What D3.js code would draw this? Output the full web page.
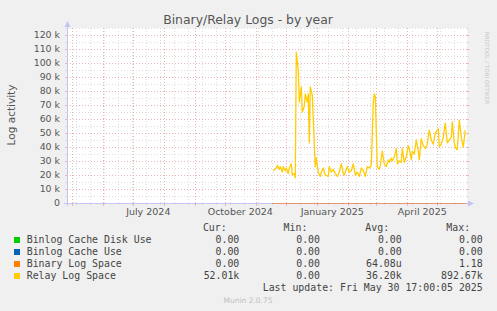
<!DOCTYPE html>
<html><head><meta charset="utf-8">
<script src="https://cdn.jsdelivr.net/npm/d3@7"></script>
<style>body{margin:0;background:#f0f0f0;overflow:hidden} svg{display:block}</style>
</head><body><svg id="c" width="497" height="311"></svg>
<script>
// ---------- data ----------
const chartTitle = "Binary/Relay Logs - by year";
const yAxisTitle = "Log activity";
const yTickValues = [0,10000,20000,30000,40000,50000,60000,70000,80000,90000,100000,110000,120000];
const yTickLabels = ["0","10 k","20 k","30 k","40 k","50 k","60 k","70 k","80 k","90 k","100 k","110 k","120 k"];
const xLabelMonths = ["2024-07-01","2024-10-01","2025-01-01","2025-04-01"];
const seriesNames = ["Binlog Cache Disk Use","Binlog Cache Use","Binary Log Space","Relay Log Space"];
const seriesColors = ["#00CC00","#0066B3","#FF8000","#FFCC00"];
const zeroDates = ["2024-11-17","2025-05-30"];
const binlogDiskValues = [0,0];
const binlogCacheValues = [0,0];
const binaryLogValues = [0,0];
const relayDates = ["2024-11-18","2024-11-21","2024-11-22","2024-11-24","2024-11-25","2024-11-27","2024-11-28","2024-11-30","2024-12-01","2024-12-03","2024-12-04","2024-12-06","2024-12-07","2024-12-09","2024-12-10","2024-12-11","2024-12-13","2024-12-14","2024-12-16","2024-12-17","2024-12-19","2024-12-20","2024-12-22","2024-12-23","2024-12-24","2024-12-25","2024-12-27","2024-12-28","2024-12-30","2024-12-31","2025-01-02","2025-01-04","2025-01-05","2025-01-07","2025-01-09","2025-01-12","2025-01-13","2025-01-15","2025-01-17","2025-01-19","2025-01-21","2025-01-23","2025-01-25","2025-01-27","2025-01-28","2025-01-31","2025-02-02","2025-02-04","2025-02-06","2025-02-08","2025-02-10","2025-02-12","2025-02-14","2025-02-16","2025-02-18","2025-02-20","2025-02-22","2025-02-24","2025-02-26","2025-02-27","2025-02-28","2025-03-02","2025-03-04","2025-03-05","2025-03-07","2025-03-09","2025-03-11","2025-03-13","2025-03-14","2025-03-16","2025-03-17","2025-03-19","2025-03-21","2025-03-22","2025-03-24","2025-03-26","2025-03-27","2025-03-29","2025-03-31","2025-04-02","2025-04-03","2025-04-05","2025-04-06","2025-04-08","2025-04-10","2025-04-12","2025-04-13","2025-04-15","2025-04-17","2025-04-19","2025-04-21","2025-04-23","2025-04-25","2025-04-27","2025-04-29","2025-05-02","2025-05-03","2025-05-05","2025-05-07","2025-05-09","2025-05-11","2025-05-13","2025-05-15","2025-05-16","2025-05-18","2025-05-19","2025-05-21","2025-05-23","2025-05-25","2025-05-27","2025-05-29"];
const relayValuesK = [23,25,27,24,26,22,26,23,25,21,25,28,20,21,18,107.6,95,72,83,65,69,78,72,78,43,83,77,59,26,32,22,19,22,25,20,19,26,22,24,21,19,22,28,21,20,26,22,23,28,20,22,19,25,23,19,26,25,27,72,78,76,26,24,27,37,28,26,31,29,32,30,33,39,28,30,29,39,29,33,41,39,31,37,35,45,37,31,46,41,39,42,52,45,42,50,53,40,42,47,57,43,45,47,58,43,40,38,59,47,40,52];
const legendHeaders = ["Cur:","Min:","Avg:","Max:"];
const legendCur = ["0.00 ","0.00 ","0.00 ","52.01k"];
const legendMin = ["0.00 ","0.00 ","0.00 ","0.00 "];
const legendAvg = ["0.00 ","0.00 ","64.08u","36.20k"];
const legendMax = ["0.00 ","0.00 ","1.18 ","892.67k"];
const lastUpdate = "Last update: Fri May 30 17:00:05 2025";
const footer = "Munin 2.0.75";
const sideText = "RRDTOOL / TOBI OETIKER";

// ---------- layout ----------
const parse = d3.timeParse("%Y-%m-%d");
const endT = new Date(2025,4,30,17,0,5);
const startT = d3.timeDay.offset(endT,-400);
const X0=67, X1=467, YT=28, YB=203;
const x = d3.scaleTime().domain([startT,endT]).range([X0,X1]);
const y = d3.scaleLinear().domain([0,125000]).range([YB,YT]);
const svg = d3.select("#c");
const font = "'DejaVu Sans', sans-serif";
const mono = "'DejaVu Sans Mono', monospace";

svg.append("rect").attr("width",497).attr("height",311).attr("fill","#f0f0f0");
svg.append("rect").attr("x",X0).attr("y",YT).attr("width",X1-X0).attr("height",YB-YT).attr("fill","#ffffff");

const minorC = "#dedede", majorC = "#ebb4b4";
const g = svg.append("g").attr("shape-rendering","crispEdges");
const hMinor = d3.range(0,125001,5000).filter(v=>v%10000!==0);
hMinor.forEach(v=>{
  const yy = Math.round(y(v))+0.5;
  g.append("line").attr("x1",X0).attr("x2",X1).attr("y1",yy).attr("y2",yy).attr("stroke",minorC).attr("stroke-dasharray","1,2");
  g.append("line").attr("x1",X0-2).attr("x2",X0).attr("y1",yy).attr("y2",yy).attr("stroke",minorC);
  g.append("line").attr("x1",X1).attr("x2",X1+2).attr("y1",yy).attr("y2",yy).attr("stroke",minorC);
});
const anchor = new Date(2024,4,19);
const vMinor = d3.range(-2,40).map(i=>d3.timeDay.offset(anchor,14*i)).filter(d=>d>startT && d<endT);
vMinor.forEach(d=>{
  const xx = Math.round(x(d))+0.5;
  g.append("line").attr("x1",xx).attr("x2",xx).attr("y1",YT).attr("y2",YB).attr("stroke",minorC).attr("stroke-dasharray","1,2");
  g.append("line").attr("x1",xx).attr("x2",xx).attr("y1",YB).attr("y2",YB+2).attr("stroke",minorC);
});
yTickValues.forEach(v=>{
  const yy = Math.round(y(v))+0.5;
  g.append("line").attr("x1",X0).attr("x2",X1).attr("y1",yy).attr("y2",yy).attr("stroke",majorC).attr("stroke-dasharray","1,2");
  g.append("line").attr("x1",X0-2).attr("x2",X0).attr("y1",yy).attr("y2",yy).attr("stroke",majorC);
  g.append("line").attr("x1",X1).attr("x2",X1+2).attr("y1",yy).attr("y2",yy).attr("stroke",majorC);
});
const months = d3.timeMonth.range(startT,endT);
months.forEach(d=>{
  const xx = Math.round(x(d))+0.5;
  g.append("line").attr("x1",xx).attr("x2",xx).attr("y1",YT).attr("y2",YB).attr("stroke",majorC).attr("stroke-dasharray","1,2");
  g.append("line").attr("x1",xx).attr("x2",xx).attr("y1",YB).attr("y2",YB+3).attr("stroke",majorC);
});

svg.append("g").selectAll("text").data(yTickValues).join("text")
  .attr("x",60).attr("y",v=>y(v)+3.4).attr("text-anchor","end")
  .attr("font-family",font).attr("font-size",9.4).attr("fill","#555")
  .text((v,i)=>yTickLabels[i]);
const fmt = d3.timeFormat("%B %Y");
svg.append("g").selectAll("text").data(xLabelMonths.map(parse)).join("text")
  .attr("x",d=>x(d3.timeDay.offset(d,15))).attr("y",215).attr("text-anchor","middle")
  .attr("font-family",font).attr("font-size",9.5).attr("fill","#555")
  .text(d=>fmt(d));

const line = d3.line().x(d=>x(d[0])).y(d=>y(d[1]));
const zd = zeroDates.map(parse);
// green and blue zero lines first (hidden under axis, as in reference)
[binlogDiskValues,binlogCacheValues].forEach((vals,i)=>{
  svg.append("path").datum(zd.map((d,j)=>[d,vals[j]]))
    .attr("d",line).attr("fill","none").attr("stroke",seriesColors[i]).attr("stroke-width",1)
    .attr("transform","translate(0,0.5)");
});
const axisC = "#c4c4f2";
svg.append("line").attr("x1",X0+0.5).attr("x2",X0+0.5).attr("y1",YB+3).attr("y2",YT-2).attr("stroke",axisC);
svg.append("line").attr("x1",X0-3).attr("x2",X1+3).attr("y1",YB+0.5).attr("y2",YB+0.5).attr("stroke",axisC);
svg.append("path").attr("d",`M${X0-2.5},${YT-1} L${X0+0.5},${YT-7} L${X0+3.5},${YT-1} Z`).attr("fill",axisC);
svg.append("path").attr("d",`M${X1+1},${YB-2.5} L${X1+7},${YB+0.5} L${X1+1},${YB+3.5} Z`).attr("fill",axisC);
// orange zero line over the axis (salmon blend as in reference)
svg.append("path").datum(zd.map((d,j)=>[d,binaryLogValues[j]]))
  .attr("d",line).attr("fill","none").attr("stroke","#e89478").attr("stroke-width",1)
  .attr("transform","translate(0,0.5)");
const rd = relayDates.map(parse);
svg.append("path").datum(rd.map((d,j)=>[d,relayValuesK[j]*1000]))
  .attr("d",line).attr("fill","none").attr("stroke",seriesColors[3]).attr("stroke-width",1.3).attr("stroke-linejoin","round");

svg.append("text").attr("x",248).attr("y",24).attr("text-anchor","middle")
  .attr("font-family",font).attr("font-size",12.4).attr("fill","#555").text(chartTitle);
svg.append("text").attr("transform","translate(14.5,115) rotate(-90)").attr("text-anchor","middle")
  .attr("font-family",font).attr("font-size",10.5).attr("fill","#555").text(yAxisTitle);
svg.append("text").attr("transform","translate(485,68) rotate(90)").attr("text-anchor","middle")
  .attr("font-family",font).attr("font-size",5.6).attr("fill","#c8c8c8").text(sideText);

const lf = 9.9, colEnds = [239.3,320,401.7,482.7];
const lg = svg.append("g").attr("font-family",mono).attr("font-size",lf).attr("fill","#444").attr("xml:space","preserve").style("white-space","pre");
legendHeaders.forEach((h,i)=>lg.append("text").attr("x",colEnds[i]-12.6).attr("y",231).attr("text-anchor","end").text(h));
const cols=[legendCur,legendMin,legendAvg,legendMax];
seriesNames.forEach((n,r)=>{
  const by = 243+12*r;
  svg.append("rect").attr("x",14).attr("y",by-6).attr("width",6).attr("height",6).attr("fill",seriesColors[r]);
  lg.append("text").attr("x",26.7).attr("y",by).text(n);
  cols.forEach((c,i)=>lg.append("text").attr("x",colEnds[i]).attr("y",by).attr("text-anchor","end").text(c[r]));
});
lg.append("text").attr("x",482.7).attr("y",291).attr("text-anchor","end").text(lastUpdate);
svg.append("text").attr("x",248).attr("y",303).attr("text-anchor","middle")
  .attr("font-family",font).attr("font-size",7.5).attr("fill","#c0c0c0").text(footer);
</script></body></html>
